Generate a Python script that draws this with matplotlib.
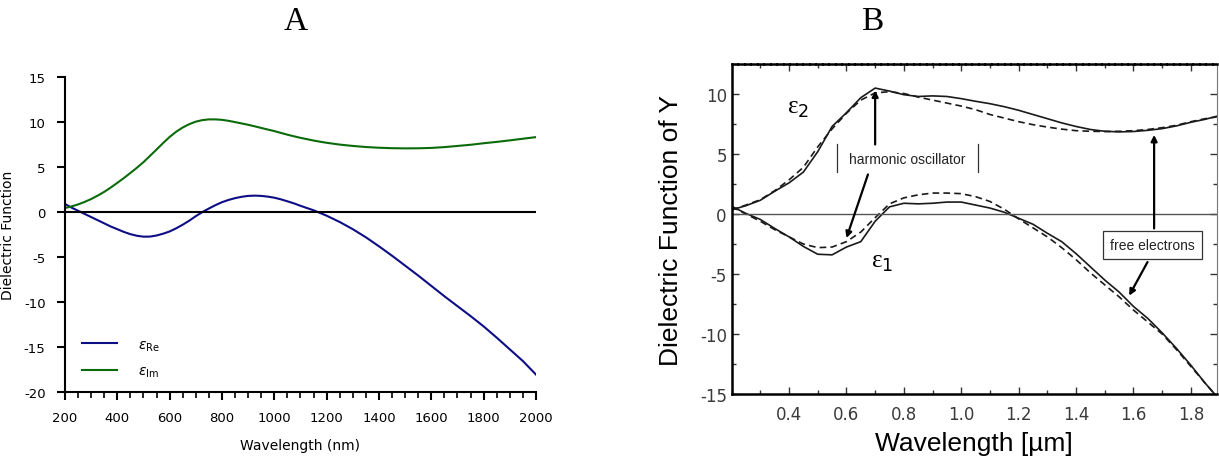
import numpy as np
import matplotlib
matplotlib.use('Agg')
from matplotlib import pyplot as plt
from matplotlib.ticker import MultipleLocator

plt.rcParams['axes.unicode_minus'] = False

# ---- panel A: model dielectric function (nm) ----
wl_nm = [200, 225, 250, 275, 300, 325, 350, 375, 400, 425, 450, 475, 500, 525, 550, 575,
         600, 625, 650, 675, 700, 725, 750, 775, 800, 825, 850, 875, 900, 925, 950, 975,
         1000, 1025, 1050, 1075, 1100, 1125, 1150, 1175, 1200, 1250, 1300, 1350, 1400,
         1450, 1500, 1550, 1600, 1650, 1700, 1750, 1800, 1850, 1900, 1950, 2000]
eps_re = [0.85, 0.45, 0.1, -0.25, -0.6, -0.95, -1.3, -1.65, -1.95, -2.25, -2.5, -2.68,
          -2.78, -2.77, -2.65, -2.45, -2.2, -1.85, -1.45, -1.0, -0.5, -0.05, 0.35, 0.72,
          1.05, 1.3, 1.5, 1.65, 1.75, 1.78, 1.75, 1.67, 1.55, 1.37, 1.15, 0.92, 0.65, 0.4,
          0.15, -0.15, -0.45, -1.15, -1.95, -2.85, -3.85, -4.9, -6.0, -7.1, -8.25, -9.4,
          -10.5, -11.6, -12.75, -14.0, -15.3, -16.6, -18.1]
eps_im = [0.4, 0.58, 0.8, 1.08, 1.4, 1.78, 2.2, 2.68, 3.2, 3.73, 4.3, 4.88, 5.5, 6.2, 6.9,
          7.62, 8.3, 8.88, 9.35, 9.72, 10.0, 10.17, 10.25, 10.25, 10.2, 10.09, 9.95, 9.8,
          9.65, 9.48, 9.3, 9.12, 8.95, 8.75, 8.55, 8.37, 8.2, 8.05, 7.9, 7.77, 7.65, 7.45,
          7.3, 7.18, 7.1, 7.05, 7.03, 7.04, 7.08, 7.17, 7.3, 7.43, 7.6, 7.75, 7.92, 8.1, 8.28]

# ---- panel B: dielectric function of Y (um), solid = measured, dashed = fit ----
wl_um = [0.20, 0.25, 0.30, 0.35, 0.40, 0.45, 0.50, 0.55, 0.60, 0.65, 0.70, 0.75, 0.80, 0.85,
         0.90, 0.95, 1.00, 1.05, 1.10, 1.15, 1.20, 1.25, 1.30, 1.35, 1.40, 1.45, 1.50, 1.55,
         1.60, 1.65, 1.70, 1.75, 1.80, 1.85, 1.89]
e2_solid = [0.35, 0.7, 1.15, 1.9, 2.6, 3.5, 5.2, 7.3, 8.45, 9.7, 10.5, 10.25, 9.95, 9.8, 9.85,
            9.8, 9.62, 9.4, 9.2, 8.95, 8.65, 8.3, 7.95, 7.6, 7.3, 7.05, 6.9, 6.85, 6.88, 6.98,
            7.12, 7.35, 7.65, 7.9, 8.15]
e2_dash = [0.35, 0.75, 1.2, 1.95, 2.85, 3.9, 5.6, 7.1, 8.4, 9.5, 10.1, 10.2, 10.05, 9.75, 9.5,
           9.25, 9.0, 8.7, 8.3, 8.0, 7.7, 7.45, 7.25, 7.08, 6.95, 6.9, 6.88, 6.9, 6.95, 7.05,
           7.2, 7.4, 7.7, 7.95, 8.1]
e1_solid = [0.65, 0.05, -0.45, -1.2, -1.9, -2.7, -3.35, -3.4, -2.75, -2.3, -0.6, 0.6, 0.9, 0.85,
            0.9, 1.0, 1.0, 0.75, 0.5, 0.15, -0.35, -0.85, -1.6, -2.3, -3.3, -4.4, -5.5, -6.5,
            -7.7, -8.7, -9.9, -11.2, -12.6, -14.1, -15.2]
e1_dash = [0.6, 0.0, -0.6, -1.3, -1.9, -2.5, -2.8, -2.75, -2.3, -1.5, -0.3, 0.85, 1.35, 1.6,
           1.75, 1.75, 1.7, 1.45, 1.05, 0.4, -0.4, -1.15, -1.9, -2.8, -3.8, -4.9, -5.9, -6.9,
           -8.0, -9.0, -10.0, -11.3, -12.7, -14.1, -15.2]

fig = plt.figure(figsize=(12.19, 4.64), dpi=100)

# ---------------- A ----------------
axA = fig.add_axes([0.0533, 0.1537, 0.3864, 0.679])
axA.plot(wl_nm, eps_re, color='#0d0d85', lw=1.5, label=r'$\varepsilon_{\mathrm{Re}}$')
axA.plot(wl_nm, eps_im, color='#0b6b0b', lw=1.5, label=r'$\varepsilon_{\mathrm{Im}}$')
axA.axhline(0, color='k', lw=1.5)
axA.set_xlim(200, 2000)
axA.set_ylim(-20, 15)
axA.xaxis.set_major_locator(MultipleLocator(200))
axA.xaxis.set_minor_locator(MultipleLocator(50))
axA.yaxis.set_major_locator(MultipleLocator(5))
for s in ['top', 'right']:
    axA.spines[s].set_visible(False)
for s in ['left', 'bottom']:
    axA.spines[s].set_linewidth(1.5)
axA.tick_params(which='major', direction='out', length=6, width=1.5, labelsize=9.5, pad=8)
axA.tick_params(which='minor', direction='out', length=4, width=1.2)
axA.set_xlabel('Wavelength (nm)', fontsize=10, labelpad=10)
axA.set_ylabel('Dielectric Function', fontsize=10, labelpad=6)
axA.legend(loc='lower left', bbox_to_anchor=(0.01, 0.0), frameon=False, fontsize=10,
           handlelength=2.5, handletextpad=1.5, labelspacing=0.8)

# ---------------- B ----------------
axB = fig.add_axes([0.6002, 0.1487, 0.3979, 0.711])
ink = '#1a1a1a'
axB.plot(wl_um, e2_solid, color=ink, lw=1.2)
axB.plot(wl_um, e2_dash, color=ink, lw=1.2, ls=(0, (4, 2.5)))
axB.plot(wl_um, e1_solid, color=ink, lw=1.2)
axB.plot(wl_um, e1_dash, color=ink, lw=1.2, ls=(0, (4, 2.5)))
axB.axhline(0, color='#555555', lw=1.0)
axB.set_xlim(0.2, 1.89)
axB.set_ylim(-15, 12.5)
axB.xaxis.set_major_locator(MultipleLocator(0.2))
axB.xaxis.set_minor_locator(MultipleLocator(0.1))
axB.yaxis.set_major_locator(MultipleLocator(5))
axB.yaxis.set_minor_locator(MultipleLocator(2.5))
axB.set_xticks([0.4, 0.6, 0.8, 1.0, 1.2, 1.4, 1.6, 1.8])
axB.set_xticklabels(['0.4', '0.6', '0.8', '1.0', '1.2', '1.4', '1.6', '1.8'])
axB.tick_params(which='both', direction='in', top=True, right=True, colors='#333333',
                labelsize=12, labelcolor='#3a3a3a')
axB.tick_params(which='major', length=5, width=1.0)
axB.tick_params(which='minor', length=3, width=1.0)
axB.tick_params(axis='x', pad=8)
for s in ['left', 'bottom']:
    axB.spines[s].set_linewidth(1.8)
axB.spines['top'].set_linewidth(1.8)
axB.spines['top'].set_linestyle((0, (2, 0.6)))
axB.spines['right'].set_linewidth(0.8)
axB.spines['right'].set_color('#777777')
axB.set_xlabel('Wavelength [µm]', fontsize=19, family='Liberation Sans', labelpad=6)
axB.set_ylabel('Dielectric Function of Y', fontsize=19, family='Liberation Sans', labelpad=12)

axB.text(0.43, 8.8, 'ε$_2$', fontsize=18, ha='center', va='center', family='Liberation Serif')
axB.text(0.725, -4.0, 'ε$_1$', fontsize=18, ha='center', va='center', family='Liberation Serif')
axB.text(0.812, 4.6, 'harmonic oscillator', fontsize=10, ha='center', va='center',
         family='Liberation Sans', color='#222222')
axB.plot([0.567, 0.567], [3.5, 5.8], color='#333333', lw=0.9)
axB.plot([1.058, 1.058], [3.5, 5.8], color='#333333', lw=0.9)
arrow = dict(arrowstyle='-|>', color='k', lw=1.6, mutation_scale=9, shrinkA=0, shrinkB=0)
axB.annotate('', xy=(0.70, 10.3), xytext=(0.70, 5.8), arrowprops=arrow)
axB.annotate('', xy=(0.60, -2.0), xytext=(0.675, 3.3), arrowprops=arrow)
axB.text(1.666, -2.6, 'free electrons', fontsize=10, ha='center', va='center',
         family='Liberation Sans', color='#222222',
         bbox=dict(boxstyle='square,pad=0.5', fc='white', ec='#333333', lw=0.9))
axB.annotate('', xy=(1.672, 6.6), xytext=(1.672, -1.2), arrowprops=arrow)
axB.annotate('', xy=(1.585, -6.8), xytext=(1.649, -4.0), arrowprops=arrow)

fig.text(296 / 1219, 1 - 22 / 464, 'A', fontsize=24, family='Liberation Serif',
         ha='center', va='center')
fig.text(872 / 1219, 1 - 22 / 464, 'B', fontsize=24, family='Liberation Serif',
         ha='center', va='center')

fig.savefig('out.png', dpi=100)
